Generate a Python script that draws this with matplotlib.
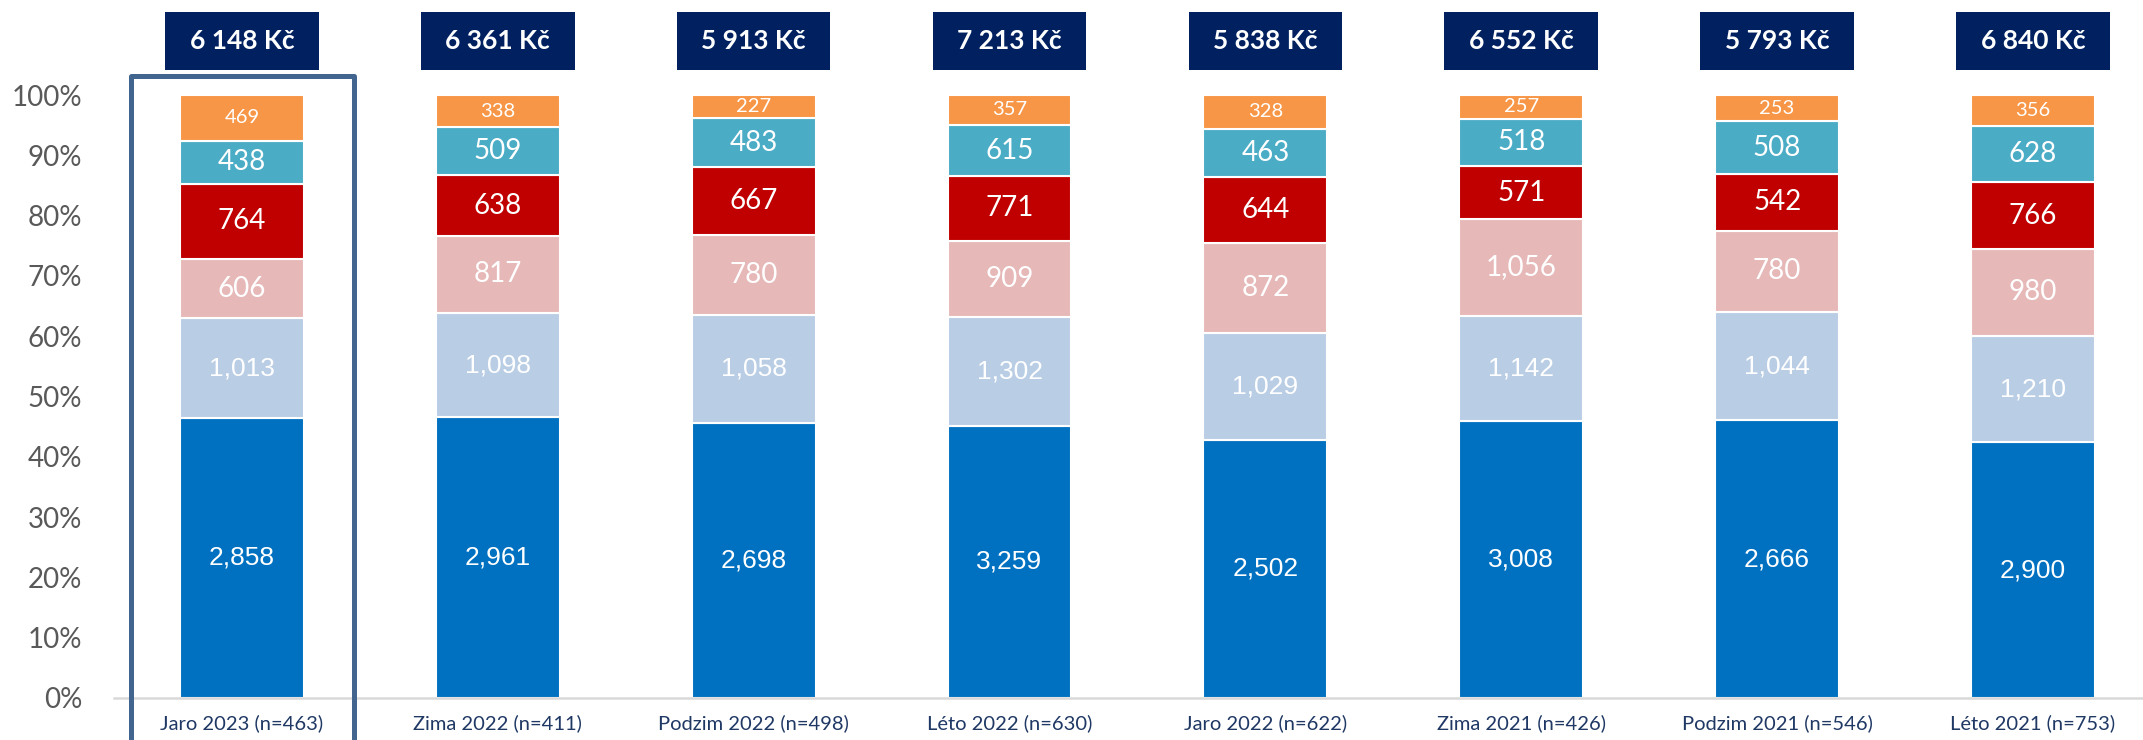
import matplotlib
matplotlib.use("Agg")
import matplotlib.pyplot as plt
from matplotlib.patches import Rectangle

categories = ["Jaro 2023 (n=463)", "Zima 2022 (n=411)", "Podzim 2022 (n=498)",
              "Léto 2022 (n=630)", "Jaro 2022 (n=622)", "Zima 2021 (n=426)",
              "Podzim 2021 (n=546)", "Léto 2021 (n=753)"]
seg_blue = [2858, 2961, 2698, 3259, 2502, 3008, 2666, 2900]
seg_lightblue = [1013, 1098, 1058, 1302, 1029, 1142, 1044, 1210]
seg_pink = [606, 817, 780, 909, 872, 1056, 780, 980]
seg_red = [764, 638, 667, 771, 644, 571, 542, 766]
seg_teal = [438, 509, 483, 615, 463, 518, 508, 628]
seg_orange = [469, 338, 227, 357, 328, 257, 253, 356]
totals = [6148, 6361, 5913, 7213, 5838, 6552, 5793, 6840]
yticks = [0, 0.1, 0.2, 0.3, 0.4, 0.5, 0.6, 0.7, 0.8, 0.9, 1.0]
ytick_labels = ["0%", "10%", "20%", "30%", "40%", "50%", "60%", "70%", "80%", "90%", "100%"]

series = [seg_blue, seg_lightblue, seg_pink, seg_red, seg_teal, seg_orange]
colors = ["#0070C0", "#B9CDE5", "#E6B9B8", "#C00000", "#4BACC6", "#F79646"]
lab_font = ["Liberation Sans", "Liberation Sans", "Lato", "Lato", "Lato", "Lato"]
lab_size = [19, 19, 20, 20, 20, 14.5]

W, H = 2143, 740
fig = plt.figure(figsize=(W / 100, H / 100), dpi=100)
ax = fig.add_axes([114 / W, (H - 698) / H, 1 - 114 / W, (698 - 95) / H])

x = list(range(len(categories)))
bottoms = [0.0] * len(categories)
for s_i, vals in enumerate(series):
    fracs = [v / t for v, t in zip(vals, totals)]
    ax.bar(x, fracs, width=0.484, bottom=bottoms, color=colors[s_i],
           edgecolor="white", linewidth=1.5, zorder=2)
    for i, (f, v) in enumerate(zip(fracs, vals)):
        ax.text(i, bottoms[i] + f / 2, f"{v:,}", ha="center", va="center",
                color="white", fontsize=lab_size[s_i], family=[lab_font[s_i], "DejaVu Sans"],
                zorder=3)
    bottoms = [b + f for b, f in zip(bottoms, fracs)]

ax.set_xlim(-0.5, 7.43)
ax.set_ylim(0, 1)
ax.set_yticks(yticks)
ax.set_yticklabels(ytick_labels, family="Lato", fontsize=20, color="#595959")
ax.set_xticks(x)
ax.set_xticklabels(categories, family="Lato", fontsize=14.5, color="#1F3864")
ax.tick_params(axis="y", length=0, pad=23)
ax.tick_params(axis="x", length=0, pad=12)
for sp in ["left", "right", "top"]:
    ax.spines[sp].set_visible(False)
ax.spines["bottom"].set_color("#D9D9D9")
ax.spines["bottom"].set_linewidth(1.8)

# total boxes
for i, t in enumerate(totals):
    ax.add_patch(Rectangle((i - 0.3, 1.041), 0.6, 0.097, facecolor="#002060",
                           edgecolor="none", clip_on=False, zorder=4))
    ax.text(i, 1.0895, f"{t:,}".replace(",", " ") + " Kč", ha="center", va="center",
            color="white", fontsize=19, fontweight="bold", family="Lato",
            clip_on=False, zorder=5)

# highlight frame around first bar
ax.add_patch(Rectangle((-0.434, -0.12), 0.873, 1.151, facecolor="none",
                       edgecolor="#41658F", linewidth=3.6, clip_on=False,
                       joinstyle="round", zorder=6))

fig.savefig("out.png", dpi=100)
